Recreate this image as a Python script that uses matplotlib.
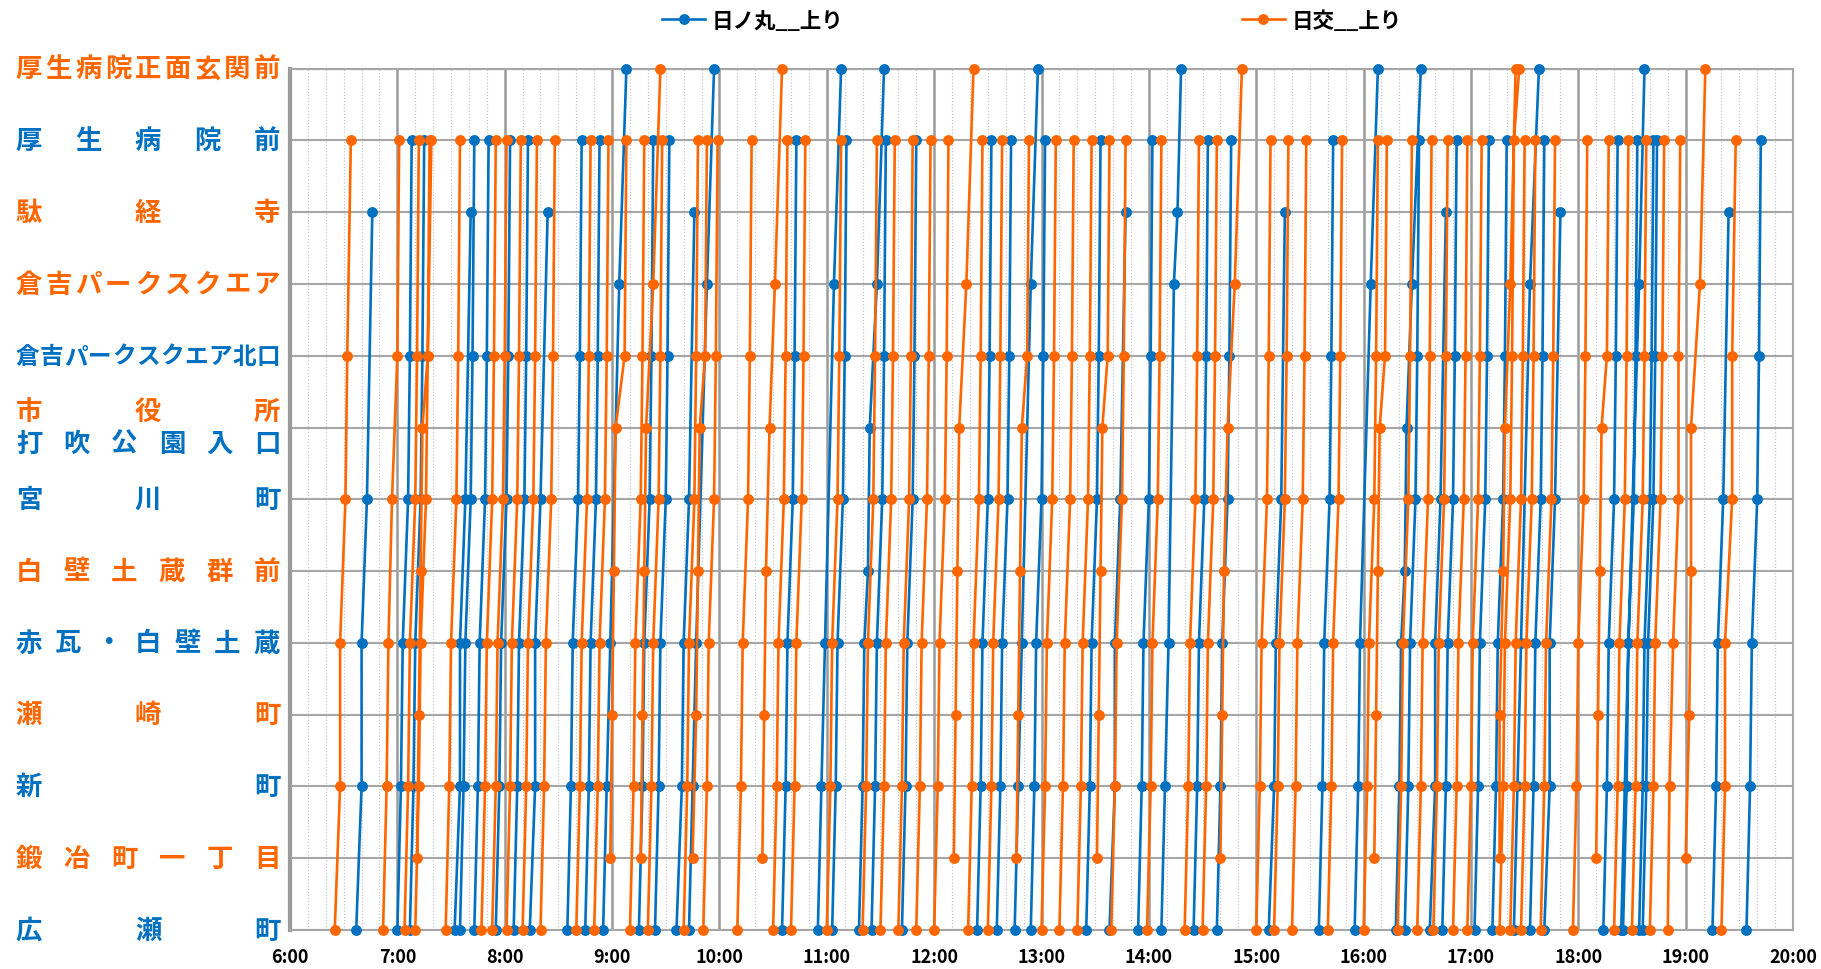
import numpy as np
import matplotlib
matplotlib.use("Agg")
import matplotlib.pyplot as plt
from matplotlib.ticker import MultipleLocator
from matplotlib.transforms import blended_transform_factory


# ------------------------------------------------------------
# Stops (0 = bottom) and which operator stops there
# ------------------------------------------------------------
STOP_LEVELS = [0, 1, 2, 3, 4, 5, 6, 7, 7, 8, 9, 10, 11, 12]
STOP_NAMES = ["広瀬町", "鍛冶町一丁目", "新町", "瀬崎町", "赤瓦・白壁土蔵",
              "白壁土蔵群前", "宮川町", "市役所", "打吹公園入口",
              "倉吉パークスクエア北口", "倉吉パークスクエア", "駄経寺",
              "厚生病院前", "厚生病院正面玄関前"]
STOP_OPERATOR = ["日ノ丸", "日交", "日ノ丸", "日交", "日ノ丸", "日交", "日ノ丸",
                 "日交", "日ノ丸", "日ノ丸", "日交", "日交", "日ノ丸", "日交"]

SERIES_NAMES = ["日ノ丸__上り", "日交__上り"]
HOURS = list(range(6, 21))

# stop patterns of the trips
PATTERN_MAIN = [0, 2, 4, 6, 8, 11]
PATTERN_MAIN_12 = [0, 2, 4, 6, 8, 11, 12]
PATTERN_DAKYO = [0, 2, 4, 6, 10]
PATTERN_SHOMEN = [0, 2, 4, 9, 12]
PATTERN_SHOMEN_SHIYAKUSHO = [0, 2, 4, 5, 7, 9, 12]
PATTERN_SHOMEN_DAKYO = [0, 2, 4, 9, 10, 12]
PATTERN_LOCAL_A = [1, 3, 5, 7, 8, 11]
PATTERN_LOCAL_B = [1, 3, 5, 7, 9, 12]

# ------------------------------------------------------------
# 日ノ丸 trips
# ------------------------------------------------------------
HINOMARU_MAIN = [
    "7:00 7:02 7:03 7:06 7:07 7:08",
    "7:07 7:09 7:10 7:13 7:14 7:15",
    "7:35 7:37 7:38 7:41 7:42 7:43",
    "7:43 7:45 7:46 7:49 7:50 7:51",
    "7:55 7:57 7:58 8:01 8:02 8:03",
    "8:05 8:07 8:08 8:11 8:12 8:13",
    "8:35 8:37 8:38 8:41 8:42 8:43",
    "8:45 8:47 8:48 8:51 8:52 8:53",
    "9:15 9:17 9:18 9:21 9:22 9:23",
    "9:24 9:26 9:27 9:30 9:31 9:32",
    "10:35 10:37 10:38 10:41 10:42 10:43",
    "11:03 11:05 11:06 11:09 11:10 11:11",
    "11:25 11:27 11:28 11:31 11:32 11:33",
    "11:42 11:44 11:45 11:48 11:49 11:50",
    "12:24 12:26 12:27 12:30 12:31 12:32",
    "12:35 12:37 12:38 12:41 12:42 12:43",
    "12:54 12:56 12:57 13:00 13:01 13:02",
    "13:25 13:27 13:28 13:31 13:32 13:33",
    "13:54 13:56 13:57 14:00 14:01 14:02",
    "14:25 14:27 14:28 14:31 14:32 14:33",
    "14:38 14:40 14:41 14:44 14:45 14:46",
    "15:35 15:37 15:38 15:41 15:42 15:43",
    "16:23 16:25 16:26 16:29 16:30 16:31",
    "16:44 16:46 16:47 16:50 16:51 16:52",
    "17:02 17:04 17:05 17:08 17:09 17:10",
    "17:12 17:14 17:15 17:18 17:19 17:20",
    "17:33 17:35 17:36 17:39 17:40 17:41",
    "18:14 18:16 18:17 18:20 18:21 18:22",
    "18:25 18:27 18:28 18:31 18:32 18:33",
    "18:34 18:36 18:37 18:40 18:41 18:42",
    "18:36 18:38 18:39 18:42 18:43 18:44",
    "19:34 19:36 19:37 19:40 19:41 19:42",
]
HINOMARU_DAKYO = [
    "6:37 6:40 6:40 6:43 6:46",
    "7:32 7:35 7:35 7:38 7:41",
    "8:14 8:17 8:17 8:20 8:24",
    "9:36 9:39 9:40 9:43 9:46",
    "13:38 13:41 13:41 13:44 13:47",
    "15:07 15:10 15:11 15:14 15:16",
    "16:37 16:40 16:40 16:43 16:46",
    "17:41 17:44 17:44 17:47 17:50",
    "19:15 19:17 19:18 19:21 19:24",
]
HINOMARU_SHOMEN = [
    "8:55 8:57 8:59 9:04 9:08",
    "9:43 9:45 9:47 9:53 9:57",
    "10:55 10:57 10:59 11:04 11:08",
    "12:45 12:47 12:49 12:54 12:58",
    "15:55 15:57 15:58 16:04 16:08",
    "17:24 17:26 17:28 17:33 17:38",
    "18:24 18:26 18:28 18:34 18:37",
]
HINOMARU_SHOMEN_SHIYAKUSHO = [
    "11:18 11:20 11:21 11:23 11:24 11:28 11:32",
    "16:18 16:20 16:21 16:23 16:24 16:27 16:32",
]
HINOMARU_SHOMEN_DAKYO = [
    "14:07 14:09 14:11 14:14 14:16 14:18",
]

# ------------------------------------------------------------
# 日交 trips
# ------------------------------------------------------------
NIKKO_MAIN = [
    "6:25 6:28 6:28 6:31 6:32 6:34",
    "6:52 6:54 6:55 6:57 7:00 7:01",
    "7:04 7:06 7:07 7:10 7:11 7:12",
    "7:10 7:12 7:13 7:16 7:17 7:18",
    "7:27 7:29 7:30 7:33 7:34 7:35",
    "7:47 7:49 7:50 7:53 7:54 7:55",
    "7:53 7:55 7:56 7:59 8:00 8:01",
    "8:01 8:03 8:04 8:07 8:08 8:09",
    "8:10 8:12 8:13 8:16 8:17 8:18",
    "8:20 8:22 8:23 8:26 8:27 8:28",
    "8:40 8:42 8:43 8:46 8:47 8:48",
    "8:50 8:52 8:53 8:56 8:57 8:58",
    "9:10 9:12 9:13 9:16 9:17 9:18",
    "9:20 9:22 9:23 9:26 9:27 9:28",
    "9:40 9:42 9:43 9:46 9:47 9:48",
    "9:51 9:53 9:54 9:57 9:58 9:59",
    "10:10 10:12 10:13 10:16 10:17 10:18",
    "10:30 10:32 10:33 10:36 10:37 10:38",
    "10:40 10:42 10:43 10:46 10:47 10:48",
    "11:00 11:02 11:03 11:06 11:07 11:08",
    "11:20 11:22 11:23 11:26 11:27 11:28",
    "11:30 11:32 11:33 11:36 11:37 11:38",
    "11:40 11:42 11:43 11:46 11:47 11:48",
    "11:50 11:52 11:53 11:56 11:57 11:58",
    "12:00 12:02 12:03 12:06 12:07 12:08",
    "12:19 12:21 12:22 12:25 12:26 12:27",
    "12:30 12:32 12:33 12:36 12:37 12:38",
    "13:00 13:02 13:03 13:06 13:07 13:08",
    "13:10 13:12 13:13 13:16 13:17 13:18",
    "13:20 13:22 13:23 13:26 13:27 13:28",
    "13:39 13:41 13:42 13:45 13:46 13:47",
    "13:59 14:01 14:02 14:05 14:06 14:07",
    "14:20 14:22 14:23 14:26 14:27 14:28",
    "14:30 14:32 14:33 14:36 14:37 14:38",
    "15:00 15:02 15:03 15:06 15:07 15:08",
    "15:10 15:12 15:13 15:16 15:17 15:18",
    "15:20 15:22 15:23 15:26 15:27 15:28",
    "15:40 15:42 15:43 15:46 15:47 15:48",
    "16:00 16:02 16:03 16:06 16:07 16:08",
    "16:19 16:21 16:22 16:25 16:26 16:27",
    "16:30 16:32 16:33 16:36 16:37 16:38",
    "16:39 16:41 16:42 16:45 16:46 16:47",
    "16:50 16:52 16:53 16:56 16:57 16:58",
    "16:58 17:00 17:01 17:04 17:05 17:06",
    "17:22 17:24 17:25 17:28 17:29 17:30",
    "17:28 17:30 17:31 17:34 17:35 17:36",
    "17:39 17:41 17:42 17:45 17:46 17:47",
    "17:57 17:59 18:00 18:03 18:04 18:05",
    "18:20 18:22 18:23 18:26 18:27 18:28",
    "18:30 18:32 18:33 18:36 18:37 18:38",
    "18:40 18:42 18:43 18:46 18:47 18:48",
    "18:50 18:51 18:53 18:56 18:56 18:57",
    "19:20 19:22 19:22 19:26 19:26 19:28",
]
NIKKO_MAIN_12 = [
    "17:16 17:18 17:19 17:22 17:23 17:24 17:27",
]
NIKKO_LOCAL_A = [
    "7:11 7:12 7:13 7:14 7:17 7:19",
    "8:59 9:00 9:01 9:02 9:07 9:08",
    "9:45 9:47 9:48 9:49 9:52 9:53",
    "12:46 12:47 12:48 12:49 12:52 12:53",
    "13:31 13:32 13:33 13:34 13:37 13:38",
    "16:06 16:07 16:08 16:09 16:12 16:13",
    "18:10 18:11 18:12 18:13 18:16 18:17",
]
NIKKO_LOCAL_B = [
    "9:16 9:17 9:18 9:19 9:23 9:27",
    "10:24 10:25 10:26 10:28 10:31 10:35",
    "12:11 12:12 12:13 12:14 12:18 12:22",
    "14:40 14:41 14:42 14:44 14:48 14:52",
    "17:16 17:16 17:18 17:19 17:22 17:25",
    "19:00 19:02 19:03 19:03 19:08 19:11",
]


def to_hours(s):
    h, m = s.split(":")
    return int(h) + int(m) / 60.0


def build_series(groups):
    """Concatenate trips into one line, separated by NaN gaps."""
    xs, ys = [], []
    for stops, trips in groups:
        for trip in trips:
            times = [to_hours(t) for t in trip.split()]
            xs += times + [np.nan]
            ys += list(stops) + [np.nan]
    return np.array(xs), np.array(ys)


hino_x, hino_y = build_series([
    (PATTERN_MAIN, HINOMARU_MAIN),
    (PATTERN_DAKYO, HINOMARU_DAKYO),
    (PATTERN_SHOMEN, HINOMARU_SHOMEN),
    (PATTERN_SHOMEN_SHIYAKUSHO, HINOMARU_SHOMEN_SHIYAKUSHO),
    (PATTERN_SHOMEN_DAKYO, HINOMARU_SHOMEN_DAKYO),
])
nikko_x, nikko_y = build_series([
    (PATTERN_MAIN, NIKKO_MAIN),
    (PATTERN_MAIN_12, NIKKO_MAIN_12),
    (PATTERN_LOCAL_A, NIKKO_LOCAL_A),
    (PATTERN_LOCAL_B, NIKKO_LOCAL_B),
])

# ------------------------------------------------------------
# Styling
# ------------------------------------------------------------
plt.rcParams["font.family"] = ["Noto Sans CJK JP", "DejaVu Sans"]

BLUE = "#0070C0"
ORANGE = "#FF6600"
OP_COLOR = {"日ノ丸": BLUE, "日交": ORANGE}
GRID = "#A6A6A6"

W, H = 1821, 970
fig = plt.figure(figsize=(W / 100, H / 100), dpi=100)
ax_left, ax_right, ax_top, ax_bottom = 290, 1793, 69.7, 931
ax = fig.add_axes([ax_left / W, 1 - ax_bottom / H,
                   (ax_right - ax_left) / W, (ax_bottom - ax_top) / H])

ax.plot(hino_x, hino_y, color=BLUE, lw=1.9, marker="o", ms=6.8,
        clip_on=False, zorder=3, label=SERIES_NAMES[0])
ax.plot(nikko_x, nikko_y, color=ORANGE, lw=1.9, marker="o", ms=6.8,
        clip_on=False, zorder=4, label=SERIES_NAMES[1])

ax.set_xlim(HOURS[0], HOURS[-1])
ax.set_ylim(0, 12)
ax.set_xticks(HOURS)
ax.set_xticklabels([f"{h}:00" for h in HOURS], fontsize=13, fontweight="bold")
ax.xaxis.set_minor_locator(MultipleLocator(1 / 6))
ax.set_yticks(range(13))
ax.set_yticklabels([])
ax.tick_params(which="both", length=0)
ax.tick_params(axis="x", pad=12)

ax.set_axisbelow(True)
ax.grid(which="major", axis="y", color=GRID, lw=1.5)
ax.grid(which="major", axis="x", color="#9A9A9A", lw=1.8)
ax.grid(which="minor", axis="x", color="#C8C8C8", lw=0.9, ls=(0, (1, 1.5)))
for side, sp in ax.spines.items():
    sp.set_color(GRID)
    sp.set_linewidth(1.5)
ax.spines["left"].set_linewidth(3.0)
ax.spines["left"].set_color("#9A9A9A")

# ------------------------------------------------------------
# Stop labels, spread over a fixed width (distributed alignment)
# ------------------------------------------------------------
trans = blended_transform_factory(fig.transFigure, ax.transData)
lab_left, lab_right = 17, 279
for level, name, op in zip(STOP_LEVELS, STOP_NAMES, STOP_OPERATOR):
    y = level
    if name == "市役所":
        y = level + 0.22
    elif name == "打吹公園入口":
        y = level - 0.22
    fs = 19 if len(name) <= 9 else 17
    cw = fs * 100 / 72 * 0.9
    n = len(name)
    xs = np.linspace(lab_left + cw / 2, lab_right - cw / 2, n)
    for ch, xc in zip(name, xs):
        ax.text(xc / W, y, ch, transform=trans, ha="center", va="center",
                fontsize=fs, fontweight="bold", color=OP_COLOR[op])

fig.legend(loc="center", bbox_to_anchor=(1032 / W, 1 - 21 / H), ncol=2,
           frameon=False, columnspacing=18.5, handlelength=2.0,
           handletextpad=0.3, prop={"size": 15.5, "weight": "bold"})

fig.savefig("out.png", dpi=100)
plt.close(fig)
